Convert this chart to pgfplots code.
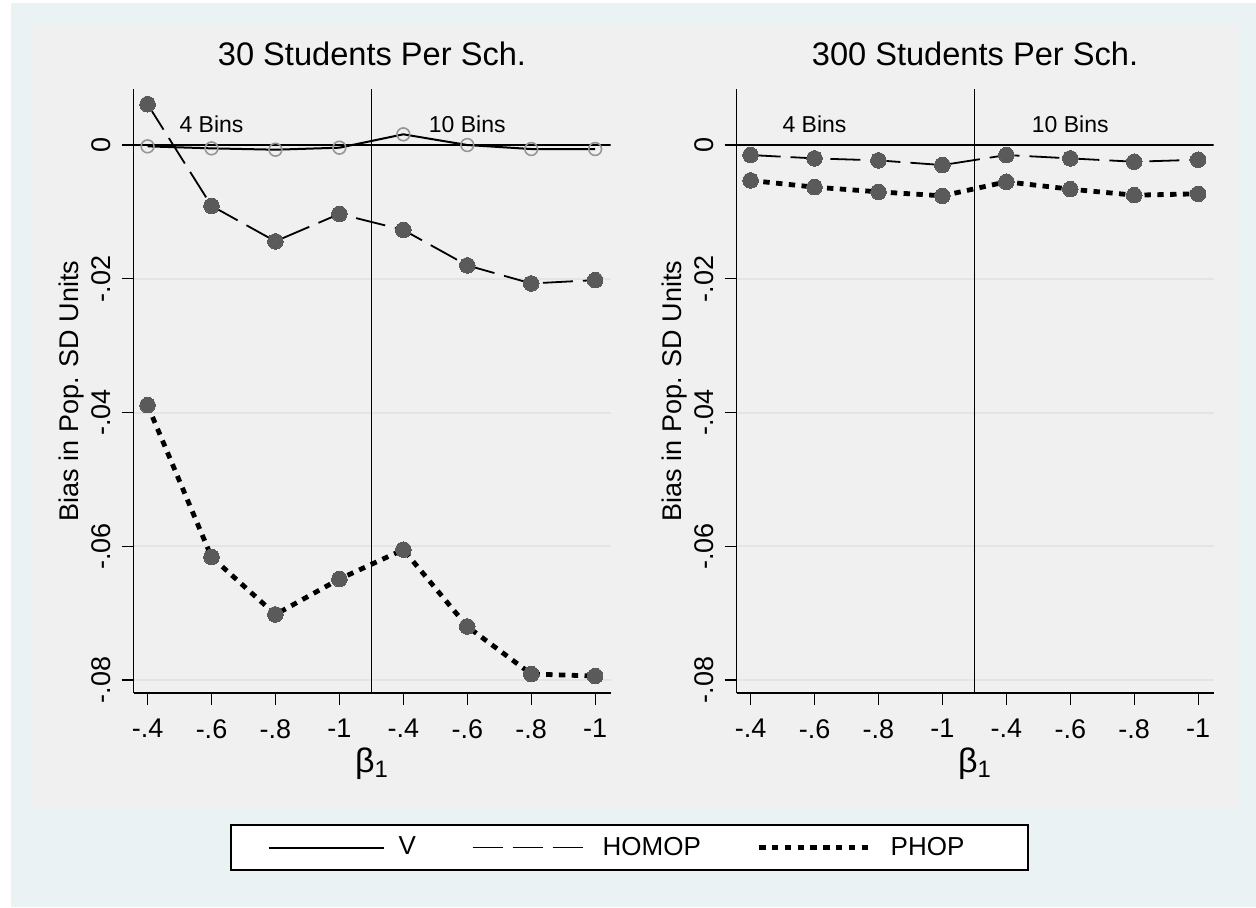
\documentclass[border=0pt]{standalone}
\usepackage{pgfplots}
\pgfplotsset{compat=1.18}
\usepackage{fontspec}
\setmainfont{Liberation Sans}
\definecolor{outerbg}{RGB}{234,242,243}
\definecolor{innerbg}{RGB}{240,240,240}
\definecolor{mk}{RGB}{90,90,90}
\definecolor{hollow}{RGB}{150,150,150}
\definecolor{gridc}{RGB}{228,228,228}

\pgfplotstableread{
x V HOMOP PHOP
0 -0.0002 0.0061 -0.0389
1 -0.0005 -0.0091 -0.0616
2 -0.0007 -0.0144 -0.0702
3 -0.0004 -0.0103 -0.0649
4 0.0016 -0.0127 -0.0605
5 0.0000 -0.0180 -0.0720
6 -0.0006 -0.0207 -0.0791
7 -0.0006 -0.0202 -0.0794
}\leftdata
\pgfplotstableread{
x HOMOP PHOP
0 -0.0015 -0.0053
1 -0.0020 -0.0063
2 -0.0023 -0.0070
3 -0.0030 -0.0076
4 -0.0015 -0.0055
5 -0.0020 -0.0066
6 -0.0025 -0.0075
7 -0.0022 -0.0073
}\rightdata

\pgfplotsset{
  stata/.style={
    scale only axis, width=238.5pt, height=302pt,
    xmin=-0.22, xmax=7.24, ymin=-0.08194, ymax=0.008374,
    scaled y ticks=false,
    axis x line*=bottom, axis y line*=left,
    axis line style={black, line width=0.7pt},
    xtick={0,...,7}, xticklabels={-.4,-.6,-.8,-1,-.4,-.6,-.8,-1},
    ytick={0,-0.02,-0.04,-0.06,-0.08}, yticklabels={0,-.02,-.04,-.06,-.08},
    tick align=outside, major tick length=6pt,
    tick style={black, line width=0.6pt},
    ymajorgrids, grid style={gridc, line width=1pt},
    x tick label style={font=\fontsize{13.5}{13.5}\selectfont, anchor=north, inner sep=0pt, yshift=-7pt},
    y tick label style={font=\fontsize{13.5}{13.5}\selectfont, rotate=90, anchor=south, inner sep=0pt, yshift=5pt},
    title style={font=\fontsize{16.3}{16.3}\selectfont, at={(axis description cs:0.5,1)}, anchor=base, yshift=6pt},
    xlabel={β\textsubscript{1}},
    xlabel style={font=\fontsize{17}{17}\selectfont, at={(axis description cs:0.5,0)}, anchor=north, inner sep=0pt, yshift=-27pt},
    ylabel={Bias in Pop. SD Units},
    ylabel style={font=\fontsize{13.5}{13.5}\selectfont, at={(axis description cs:0,0.5)}, anchor=center, yshift=30.75pt},
    mkfill/.style={only marks, mark=*, mark size=3.9pt, mark options={draw=mk, fill=mk, line width=0pt}, forget plot},
    vline/.style={black, line width=1pt, no marks},
    hline/.style={black, line width=0.9pt, dash pattern=on 15pt off 5pt, no marks},
    pline/.style={black, line width=2.4pt, dash pattern=on 3.2pt off 3.2pt, no marks},
    legend image code/.code={\draw[#1] (0pt,0pt) -- (57.5pt,0pt);},
  }
}

\begin{document}
\begin{tikzpicture}
\begin{scope}[x=0.5pt,y=0.5pt]
\fill[white] (0,0) rectangle (1256,907);
\fill[outerbg] (11,0) rectangle (1256,904);
\fill[innerbg] (32,97) rectangle (1238,882);
\end{scope}

\begin{axis}[stata, at={(66.75pt,107pt)}, anchor=south west,
  title={30 Students Per Sch.},
  legend columns=3,
  legend style={at={(axis description cs:1.0397,-0.2558)}, anchor=center,
    draw=black, line width=1pt, fill=white,
    font=\fontsize{13}{13}\selectfont,
    inner xsep=18.5pt, inner ysep=6pt,
    /tikz/every odd column/.append style={column sep=7pt},
    /tikz/every even column/.append style={column sep=28pt},
    nodes={inner sep=0pt}},
]
\draw[black, line width=0.8pt] (axis cs:-0.22,0) -- (axis cs:7.24,0);
\draw[black, line width=0.75pt] (axis cs:3.5,-0.08194) -- (axis cs:3.5,0.008374);
\addplot[only marks, mark=o, mark size=3.2pt, mark options={draw=hollow, line width=0.8pt}, forget plot] table[x=x,y=V] {\leftdata};
\addplot[mkfill] table[x=x,y=HOMOP] {\leftdata};
\addplot[mkfill] table[x=x,y=PHOP] {\leftdata};
\addplot[vline] table[x=x,y=V] {\leftdata};
\addplot[hline] table[x=x,y=HOMOP] {\leftdata};
\addplot[pline] table[x=x,y=PHOP] {\leftdata};
\legend{V,HOMOP,PHOP\rule{13.5pt}{0pt}}
\node[font=\fontsize{11.5}{11.5}\selectfont, anchor=base] at (axis cs:1,0.0018) {4 Bins};
\node[font=\fontsize{11.5}{11.5}\selectfont, anchor=base] at (axis cs:5,0.0018) {10 Bins};
\end{axis}

\begin{axis}[stata, at={(368.25pt,107pt)}, anchor=south west,
  title={300 Students Per Sch.}]
\draw[black, line width=0.8pt] (axis cs:-0.22,0) -- (axis cs:7.24,0);
\draw[black, line width=0.75pt] (axis cs:3.5,-0.08194) -- (axis cs:3.5,0.008374);
\addplot[mkfill] table[x=x,y=HOMOP] {\rightdata};
\addplot[mkfill] table[x=x,y=PHOP] {\rightdata};
\addplot[hline] table[x=x,y=HOMOP] {\rightdata};
\addplot[pline] table[x=x,y=PHOP] {\rightdata};
\node[font=\fontsize{11.5}{11.5}\selectfont, anchor=base] at (axis cs:1,0.0018) {4 Bins};
\node[font=\fontsize{11.5}{11.5}\selectfont, anchor=base] at (axis cs:5,0.0018) {10 Bins};
\end{axis}
\end{tikzpicture}
\end{document}
